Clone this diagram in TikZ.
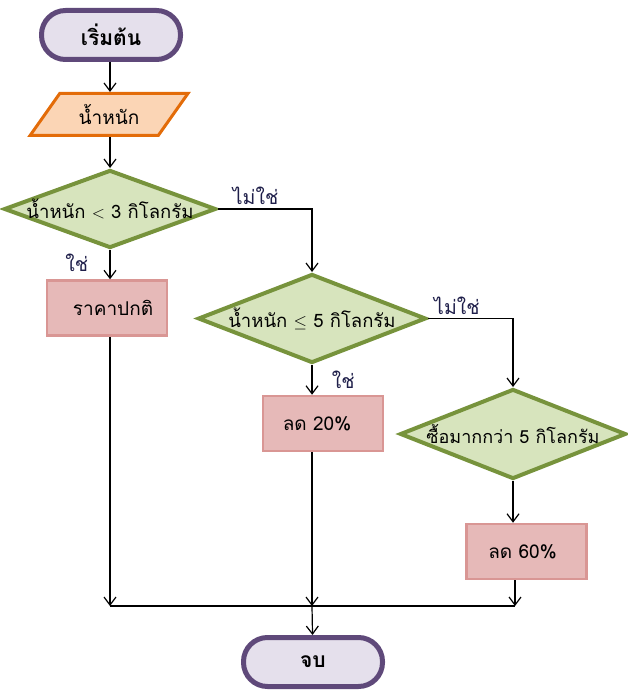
\documentclass[tikz,border=0pt]{standalone}
\usepackage{fontspec}
\newfontfamily\thaifont[Script=Thai]{Loma}
\usetikzlibrary{shapes.geometric,arrows.meta}

\definecolor{termline}{HTML}{5F497A}
\definecolor{termfill}{HTML}{E5E0EC}
\definecolor{inline}{HTML}{E36C09}
\definecolor{infill}{HTML}{FBD5B5}
\definecolor{decline}{HTML}{77933C}
\definecolor{decfill}{HTML}{D7E4BD}
\definecolor{procline}{HTML}{D99694}
\definecolor{procfill}{HTML}{E6B9B8}
\definecolor{lbl}{HTML}{1F1F4A}

\tikzset{
  terminal/.style={draw=termline, fill=termfill, line width=5pt, rounded corners=24pt,
    minimum width=139pt, minimum height=49pt, font=\thaifont\fontsize{21}{24}\selectfont\bfseries},
  inputbox/.style={trapezium, trapezium left angle=53, trapezium right angle=127,
    trapezium stretches=true, draw=inline, fill=infill, line width=3pt,
    minimum width=158pt, minimum height=42pt, font=\thaifont\fontsize{19}{22}\selectfont},
  decision/.style={diamond, draw=decline, fill=decfill, line width=4pt,
    inner xsep=-12pt, inner ysep=-6pt, font=\thaifont\fontsize{18.5}{21}\selectfont},
  process/.style={rectangle, draw=procline, fill=procfill, line width=2.5pt,
    minimum width=120pt, minimum height=55pt, font=\thaifont\fontsize{19}{22}\selectfont},
  answer/.style={text=lbl, font=\thaifont\fontsize{19.5}{22}\selectfont},
  flow/.style={line width=1.2pt, -{Straight Barb[length=8pt,width=12pt]}}
}

\begin{document}
\begin{tikzpicture}[x=1pt,y=-1pt]
        \useasboundingbox (0,0) rectangle (628,695);

        \node[terminal] (start) at (111,35) {เริ่มต้น};
        \node[inputbox] (weight) at (109,114.5) {น้ำหนัก};
        \node[decision, aspect=2.72, minimum width=212pt, minimum height=78pt] (less3) at (110,209)
            {น้ำหนัก $<$ 3 กิโลกรัม};
        \node[process] (normal) at (107,308) {\hspace*{12pt}ราคาปกติ};
        \node[decision, aspect=2.56, minimum width=228pt, minimum height=89pt] (upto5) at (312,318.5)
            {น้ำหนัก $\leq$ 5 กิโลกรัม};
        \node[process] (off20) at (323,423.5) {ลด 20\%\hspace*{12pt}};
        \node[decision, aspect=2.51, minimum width=226pt, minimum height=90pt] (over5) at (513,434)
            {\fontsize{18}{21}\selectfont ซื้อมากกว่า 5 กิโลกรัม};
        \node[process] (off60) at (526.5,551.5) {ลด 60\%\hspace*{8pt}};
        \node[terminal] (stop) at (313,662) {จบ};

        \coordinate (join) at (312,606);

        \draw [flow](start.south -| less3) -- (weight.north -| less3);
        \draw [flow](weight.south -| less3) -- (less3.north);
        \draw [flow](less3.south) -- node[answer, pos=0.45, left=18pt] {ใช่} (less3.south |- normal.north);
        \draw [flow](less3.east) -| node[answer, pos=0.2, above] {ไม่ใช่} (upto5.north);
        \draw [flow](upto5.south) -- node[answer, pos=0.5, right=16pt] {ใช่} (upto5.south |- off20.north);
        \draw [flow](upto5.east) -| node[answer, pos=0.17, above] {ไม่ใช่} (over5.north);
        \draw [flow](over5.south) -- (over5.south |- off60.north);

        \draw [flow](normal.south -| less3) -- (less3 |- join);
        \draw [flow](off20.south -| join) -- (join);
        \draw [flow]([xshift=2pt]off60.south -| over5.south) -- ([xshift=2pt]over5.south |- join);
        \draw [line width=1.2pt](less3 |- join) -- ([xshift=2pt]over5.south |- join);
        \path [flow](join) edge (stop);
    \end{tikzpicture}
\end{document}
